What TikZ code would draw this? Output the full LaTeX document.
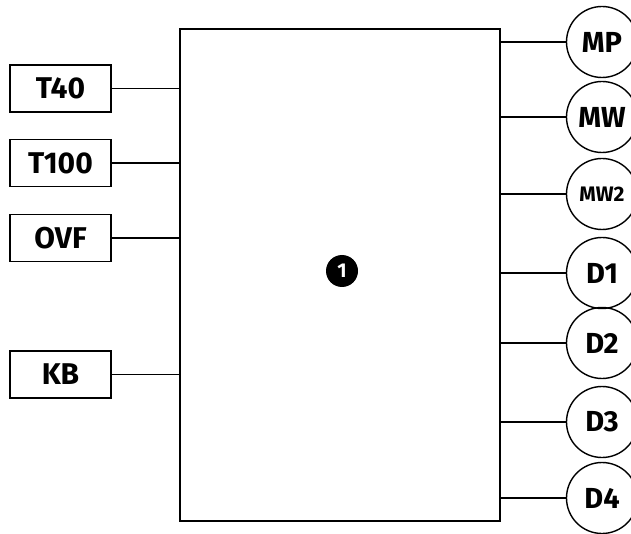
\documentclass[tikz,border=0pt]{standalone}
\usepackage{fontspec}
\setmainfont{Fira Sans}
\begin{document}
\begin{tikzpicture}[x=1pt,y=-1pt,
  inbox/.style={draw,line width=1.8pt,minimum width=101pt,minimum height=47pt,inner sep=0pt,font=\fontsize{30}{32}\selectfont\bfseries},
  outcirc/.style={draw,circle,line width=1.4pt,minimum size=71pt,inner sep=0pt,font=\fontsize{29}{31}\selectfont\bfseries},
  wire/.style={line width=1.7pt},
  badge/.style={circle,fill=black,text=white,minimum size=32pt,inner sep=0pt,font=\fontsize{20}{21}\selectfont\bfseries}]
\useasboundingbox (0,0) rectangle (631,534);
\node[draw,line width=2pt,minimum width=320pt,minimum height=492pt,inner sep=0pt] (main) at (340,275) {};
\node[badge] (one) at (342,271) {1};
\node[inbox] (t40) at (60.5,88.5) {T40};
\node[inbox] (t100) at (60.5,163) {T100};
\node[inbox] (ovf) at (60.5,238) {OVF};
\node[inbox] (kb) at (60.5,374.5) {KB};
\foreach \n in {t40,t100,ovf,kb} \draw[wire] (\n.east) -- (\n.east -| main.west);
\node[outcirc] (mp) at (602,42) {MP};
\node[outcirc] (mw) at (602,117) {MW};
\node[outcirc,font=\fontsize{21}{22}\selectfont\bfseries] (mw2) at (602,194) {MW2};
\node[outcirc] (d1) at (602,273) {D1};
\node[outcirc] (d2) at (602,343) {D2};
\node[outcirc] (d3) at (602,422) {D3};
\node[outcirc] (d4) at (602,498) {D4};
\foreach \n in {mp,mw,mw2,d1,d2,d3,d4} \draw[wire] (\n.west -| main.east) -- (\n.west);
\end{tikzpicture}
\end{document}
